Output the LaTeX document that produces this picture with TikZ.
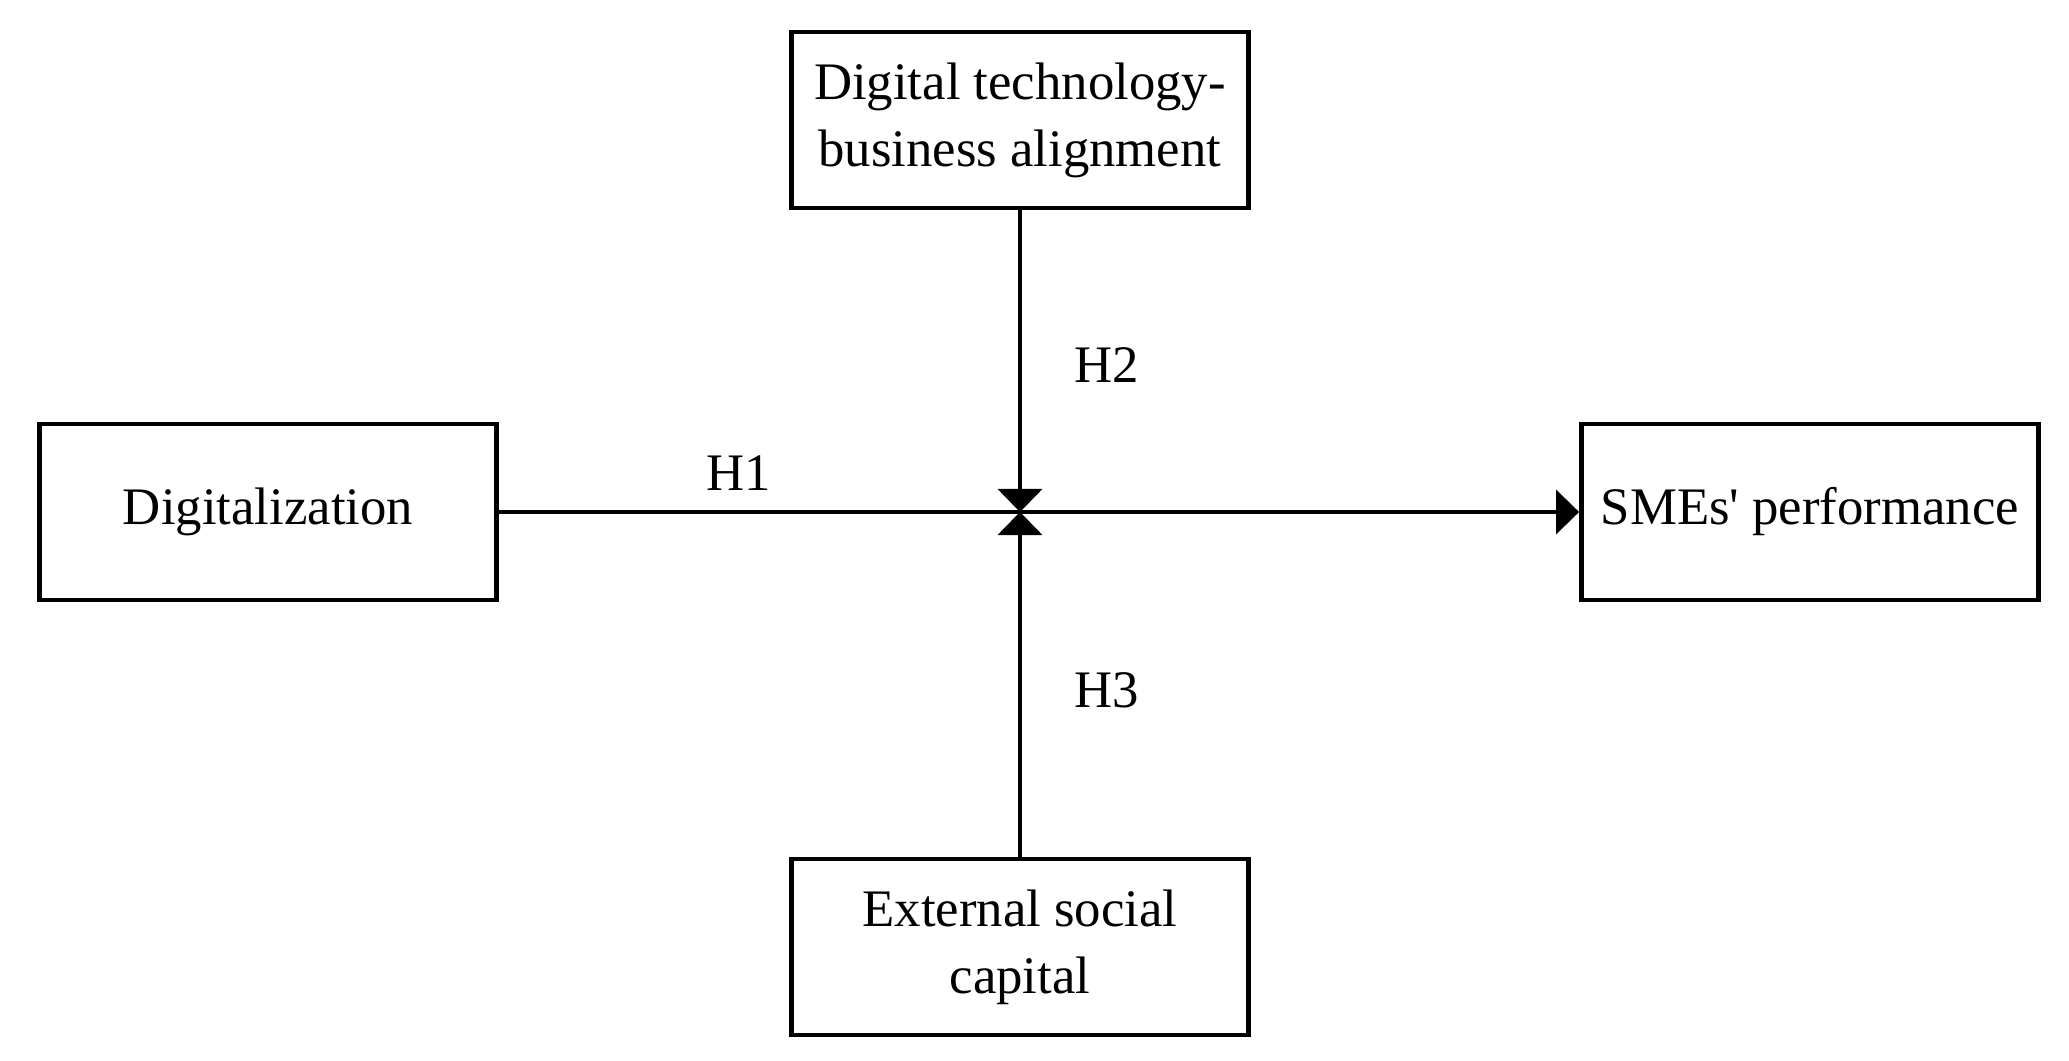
\documentclass[tikz,border=0pt]{standalone}
\usepackage{fontspec}
\setmainfont{Liberation Serif}
\usetikzlibrary{arrows.meta}
\begin{document}
\begin{tikzpicture}[x=0.01cm,y=-0.01cm,
  box/.style={draw=black,line width=1.3pt,minimum width=4.57cm,minimum height=1.76cm,
    align=center,inner sep=2pt,font=\fontsize{15}{19}\selectfont},
  conn/.style={line width=1.1pt,-{Triangle[width=4.4mm,length=2.3mm]}},
  lbl/.style={font=\fontsize{15}{19}\selectfont}]
\useasboundingbox (0,0) rectangle (2069,1061);
\node[box] (dtba) at (1020,120) {Digital technology-\\business alignment};
\node[box] (dig) at (268,512) {Digitalization};
\node[box] (perf) at (1810,512) {SMEs\textquotesingle{} performance};
\node[box] (esc) at (1020,947) {External social\\capital};
\coordinate (c) at (1020,512);
\draw[line width=1.1pt] (dig.east) -- (c);
\draw[conn] (c) -- (perf.west);
\draw[conn] (dtba.south) -- (c);
\draw[conn] (esc.north) -- (c);
\node[lbl] (h1) at (739,473) {H1};
\node[lbl] (h2) at (1107,365) {H2};
\node[lbl] (h3) at (1107,690) {H3};
\end{tikzpicture}
\end{document}
